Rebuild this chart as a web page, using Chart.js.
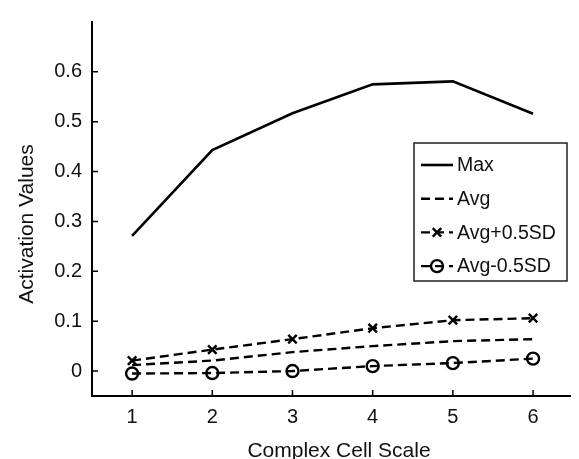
<!DOCTYPE html>
<html>
<head>
<meta charset="utf-8">
<script src="https://cdn.jsdelivr.net/npm/chart.js@4/dist/chart.umd.min.js"></script>
<style>
  html, body { margin: 0; padding: 0; background: #fff; }
  #wrap { width: 579px; height: 459px; }
</style>
</head>
<body>
<div id="wrap"><canvas id="chart" width="579" height="459"></canvas></div>
<script>
// scales 1..6
const scales = [1, 2, 3, 4, 5, 6];
const maxVals = [0.271, 0.443, 0.517, 0.575, 0.581, 0.516];
const avgVals = [0.012, 0.021, 0.038, 0.050, 0.060, 0.064];
const avgPlusVals = [0.021, 0.043, 0.064, 0.086, 0.102, 0.106];
const avgMinusVals = [-0.005, -0.004, 0.000, 0.010, 0.016, 0.025];
const xTicks = [1, 2, 3, 4, 5, 6];
const yTicks = [0, 0.1, 0.2, 0.3, 0.4, 0.5, 0.6];
const seriesNames = ['Max', 'Avg', 'Avg+0.5SD', 'Avg-0.5SD'];

const FONT = '"Liberation Sans", Arial, sans-serif';

const toPoints = vals => vals.map((v, i) => ({ x: scales[i], y: v }));

// ticks pointing inward, like the original figure
const inwardTicks = {
  id: 'inwardTicks',
  afterDraw(chart) {
    const ctx = chart.ctx, area = chart.chartArea;
    const xs = chart.scales.x, ys = chart.scales.y;
    ctx.save();
    ctx.strokeStyle = '#000';
    ctx.lineWidth = 1.5;
    ctx.beginPath();
    xTicks.forEach(v => {
      const px = xs.getPixelForValue(v);
      ctx.moveTo(px, area.bottom);
      ctx.lineTo(px, area.bottom - 6);
    });
    yTicks.forEach(v => {
      const py = ys.getPixelForValue(v);
      ctx.moveTo(area.left, py);
      ctx.lineTo(area.left + 6, py);
    });
    ctx.stroke();
    ctx.restore();
  }
};

// axis titles placed where the figure has them
const axisTitles = {
  id: 'axisTitles',
  afterDraw(chart) {
    const ctx = chart.ctx;
    ctx.save();
    ctx.fillStyle = '#111';
    ctx.font = '21px ' + FONT;
    ctx.textAlign = 'center';
    ctx.textBaseline = 'alphabetic';
    ctx.fillText('Complex Cell Scale', 339, 457);
    ctx.translate(33, 224);
    ctx.rotate(-Math.PI / 2);
    ctx.fillText('Activation Values', 0, 0);
    ctx.restore();
  }
};

// boxed legend inside the plot
const boxLegend = {
  id: 'boxLegend',
  afterDraw(chart) {
    const ctx = chart.ctx;
    const bx = 414, by = 143, bw = 153, bh = 138;
    ctx.save();
    ctx.fillStyle = '#fff';
    ctx.fillRect(bx, by, bw, bh);
    ctx.strokeStyle = '#222';
    ctx.lineWidth = 1.5;
    ctx.strokeRect(bx, by, bw, bh);
    chart.data.datasets.forEach((ds, i) => {
      const y = 165 + i * 33.7;
      ctx.strokeStyle = '#000';
      ctx.lineWidth = ds.borderWidth;
      ctx.setLineDash(ds.borderDash || []);
      ctx.beginPath();
      ctx.moveTo(421, y);
      ctx.lineTo(453, y);
      ctx.stroke();
      ctx.setLineDash([]);
      if (ds.pointRadius > 0) {
        ctx.lineWidth = ds.pointBorderWidth;
        ctx.fillStyle = 'rgba(0,0,0,0)';
        Chart.helpers.drawPoint(ctx, { pointStyle: ds.pointStyle, radius: ds.pointRadius, borderWidth: ds.pointBorderWidth, rotation: 0 }, 437, y);
      }
      ctx.fillStyle = '#111';
      ctx.font = '19.5px ' + FONT;
      ctx.textAlign = 'left';
      ctx.textBaseline = 'middle';
      ctx.fillText(ds.label, 457, y + 1);
    });
    ctx.restore();
  }
};

new Chart(document.getElementById('chart'), {
  type: 'line',
  data: {
    datasets: [
      {
        label: seriesNames[0],
        data: toPoints(maxVals),
        borderColor: '#000',
        borderWidth: 2.6,
        pointRadius: 0
      },
      {
        label: seriesNames[1],
        data: toPoints(avgVals),
        borderColor: '#000',
        borderWidth: 2.4,
        borderDash: [9, 5],
        pointRadius: 0
      },
      {
        label: seriesNames[2],
        data: toPoints(avgPlusVals),
        borderColor: '#000',
        borderWidth: 2.4,
        borderDash: [9, 5],
        pointStyle: 'crossRot',
        pointRadius: 6,
        pointBorderWidth: 2.4,
        pointBorderColor: '#000',
        pointBackgroundColor: 'rgba(0,0,0,0)'
      },
      {
        label: seriesNames[3],
        data: toPoints(avgMinusVals),
        borderColor: '#000',
        borderWidth: 2.4,
        borderDash: [9, 5],
        pointStyle: 'circle',
        pointRadius: 6,
        pointBorderWidth: 2.4,
        pointBorderColor: '#000',
        pointBackgroundColor: 'rgba(0,0,0,0)'
      }
    ]
  },
  options: {
    responsive: false,
    animation: false,
    layout: { padding: { top: 13, right: 0, left: 0, bottom: 0 } },
    plugins: {
      legend: { display: false },
      tooltip: { enabled: false }
    },
    scales: {
      x: {
        type: 'linear',
        min: 0.5,
        max: 6.468,
        afterBuildTicks: s => { s.ticks = xTicks.map(v => ({ value: v })); },
        afterFit: s => { s.height = 63; },
        grid: { display: true, drawOnChartArea: false, drawTicks: false },
        border: { display: true, color: '#000', width: 2 },
        ticks: { color: '#111', font: { family: FONT, size: 20 }, padding: 9, maxRotation: 0 }
      },
      y: {
        type: 'linear',
        min: -0.05,
        max: 0.7,
        afterBuildTicks: s => { s.ticks = yTicks.map(v => ({ value: v })); },
        afterFit: s => { s.width = 92; },
        grid: { display: true, drawOnChartArea: false, drawTicks: false },
        border: { display: true, color: '#000', width: 2 },
        ticks: { color: '#111', font: { family: FONT, size: 20 }, padding: 10, callback: v => String(Math.round(v * 10) / 10) }
      }
    }
  },
  plugins: [inwardTicks, axisTitles, boxLegend]
});
</script>
</body>
</html>
